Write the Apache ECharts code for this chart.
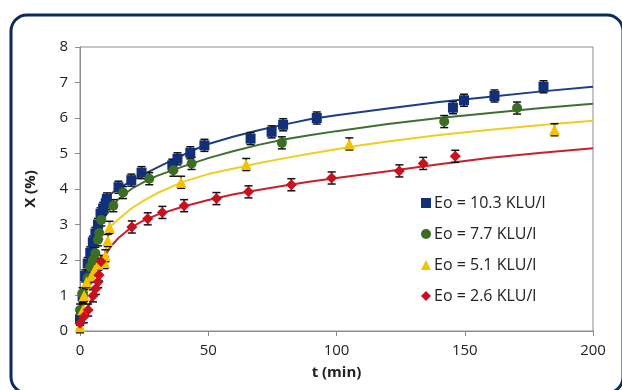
<!DOCTYPE html>
<html>
<head>
<meta charset="utf-8">
<script src="https://cdn.jsdelivr.net/npm/echarts@6/dist/echarts.min.js"></script>
<style>
  html, body {margin: 0; padding: 0; background: #fff;}
  #chart {width: 622px; height: 390px;}
</style>
</head>
<body>
<div id="chart"></div>
<script>
// measured points [t (min), X (%)]
var ptsE103 = [[0,0.33],[1,0.97],[2,1.55],[3,1.9],[4,2.2],[5,2.5],[6,2.75],[7,3.0],[8,3.3],[9,3.45],[10,3.6],[10.5,3.72],
  [15,4.05],[20,4.25],[24,4.46],[36,4.67],[38,4.85],[43,5.02],[48.5,5.23],[66.5,5.42],[74.7,5.61],[79.2,5.81],[92.3,6.0],
  [145.4,6.29],[149.7,6.5],[161.6,6.62],[180.7,6.88]];
var ptsE77 = [[0,0.59],[1,1.05],[3,1.5],[4,1.8],[5,2.0],[6,2.19],[7,2.57],[7.5,2.76],[8.3,3.13],[13,3.53],[16.8,3.9],
  [27,4.29],[36.4,4.53],[43.5,4.72],[78.7,5.3],[142,5.9],[170.4,6.28]];
var ptsE51 = [[0,0.12],[1.2,0.6],[1.6,1.0],[2.6,1.39],[4.5,1.55],[5.7,1.72],[7.1,1.88],[9.6,1.93],[9.9,2.12],[10.8,2.55],
  [11.5,2.92],[39.4,4.19],[64.8,4.69],[105,5.27],[185,5.67]];
var ptsE26 = [[0,0.22],[1.5,0.4],[3.2,0.59],[5.1,0.99],[6.2,1.2],[7.1,1.39],[7.4,1.58],[8.2,1.96],[20.2,2.93],[26.4,3.16],
  [32.1,3.34],[40.6,3.53],[53.2,3.73],[65.7,3.92],[82.4,4.12],[98.1,4.31],[124.5,4.51],[133.8,4.72],[146.3,4.92]];

// fitted curves
var fitE103 = [[0,0.35],[2,1.45],[4,2.25],[6,2.85],[8,3.35],[10,3.7],[12,3.86],[15,4.02],[20,4.22],[25,4.42],[30,4.6],
  [35,4.78],[40,4.95],[45,5.12],[50,5.27],[60,5.48],[70,5.66],[80,5.82],[90,5.97],[100,6.08],[120,6.27],[140,6.45],
  [160,6.6],[180,6.75],[200,6.88]];
var fitE77 = [[0,0.6],[2,1.3],[4,1.95],[6,2.5],[8,2.95],[10,3.25],[12,3.45],[15,3.72],[20,4.0],[25,4.2],[30,4.37],
  [40,4.63],[50,4.87],[60,5.07],[70,5.25],[80,5.4],[90,5.52],[100,5.63],[120,5.83],[140,6.0],[160,6.14],[180,6.28],[200,6.4]];
var fitE51 = [[0,0.12],[2,0.9],[4,1.35],[6,1.7],[8,1.95],[9.7,2.1],[11.7,2.94],[15,3.15],[20,3.45],[25,3.68],[30,3.88],
  [35,4.04],[40,4.2],[50,4.42],[60,4.58],[70,4.73],[80,4.87],[90,5.0],[100,5.12],[110,5.24],[120,5.34],[140,5.52],
  [160,5.67],[180,5.8],[200,5.92]];
var fitE26 = [[0,0.2],[2,0.42],[4,0.8],[6,1.2],[8,1.75],[10.4,2.2],[12,2.38],[15,2.62],[20,2.92],[25,3.12],[30,3.27],
  [40,3.5],[50,3.69],[60,3.85],[70,3.98],[80,4.1],[90,4.21],[100,4.31],[120,4.5],[140,4.7],[160,4.88],[180,5.02],[200,5.15]];

var errHalf = 0.17;  // error bar half width, X (%)
var seriesNames = ['Eo = 10.3 KLU/l', 'Eo = 7.7 KLU/l', 'Eo = 5.1 KLU/l', 'Eo = 2.6 KLU/l'];

var colors = ['#12307a', '#3b6e23', '#f4c300', '#c8101e'];
var lineColors = ['#1d3d86', '#3f7030', '#f2cd1e', '#c8202c'];
var symbols = ['rect', 'circle', 'triangle', 'diamond'];
var symbolSizes = [10, 10, 11, 11];
var pts = [ptsE103, ptsE77, ptsE51, ptsE26];
var fits = [fitE103, fitE77, fitE51, fitE26];

var chart = echarts.init(document.getElementById('chart'));

var series = [];
for (let i = 0; i < 4; i++) {
  series.push({
    name: seriesNames[i] + ' fit',
    type: 'line',
    data: fits[i],
    smooth: false,
    showSymbol: false,
    lineStyle: {color: lineColors[i], width: 2},
    silent: true,
    z: 2
  });
}
for (let i = 0; i < 4; i++) {
  series.push({
    name: seriesNames[i] + ' err',
    type: 'custom',
    data: pts[i],
    silent: true,
    z: 3,
    renderItem: function (params, api) {
      var t = api.value(0), v = api.value(1);
      var hi = api.coord([t, v + errHalf]);
      var lo = api.coord([t, v - errHalf]);
      var cap = 4;
      var st = {stroke: '#111', lineWidth: 1.5};
      return {
        type: 'group',
        children: [
          {type: 'line', shape: {x1: hi[0], y1: hi[1], x2: lo[0], y2: lo[1]}, style: st},
          {type: 'line', shape: {x1: hi[0] - cap, y1: hi[1], x2: hi[0] + cap, y2: hi[1]}, style: st},
          {type: 'line', shape: {x1: lo[0] - cap, y1: lo[1], x2: lo[0] + cap, y2: lo[1]}, style: st}
        ]
      };
    }
  });
}
for (let i = 0; i < 4; i++) {
  series.push({
    name: seriesNames[i],
    type: 'scatter',
    data: pts[i],
    symbol: symbols[i],
    symbolSize: symbolSizes[i],
    itemStyle: {color: colors[i], opacity: 1},
    z: 4
  });
}

var option = {
  animation: false,
  backgroundColor: '#fff',
  graphic: [{
    type: 'rect',
    shape: {x: 11, y: 15, width: 612, height: 378, r: 16},
    style: {fill: 'none', stroke: '#0d2a5c', lineWidth: 3},
    silent: true
  }],
  grid: {
    left: 80, right: 29, top: 47, bottom: 59,
    show: true, borderColor: '#8c8c8c', borderWidth: 1
  },
  legend: {
    orient: 'vertical',
    left: 416, top: 190,
    itemGap: 15,
    itemWidth: 10, itemHeight: 10,
    data: seriesNames,
    textStyle: {fontFamily: 'Open Sans', fontSize: 16, color: '#222', padding: [0, 0, 0, -2]}
  },
  xAxis: {
    type: 'value',
    min: 0, max: 200, interval: 50,
    name: 't (min)',
    nameLocation: 'middle',
    nameGap: 34,
    nameTextStyle: {fontFamily: 'Open Sans', fontSize: 15, fontWeight: 'bold', color: '#222'},
    axisLine: {show: true, lineStyle: {color: '#8c8c8c'}},
    axisTick: {show: true, length: 5, lineStyle: {color: '#8c8c8c'}},
    axisLabel: {fontFamily: 'Open Sans', fontSize: 15, color: '#222', margin: 12},
    splitLine: {show: false}
  },
  yAxis: {
    type: 'value',
    min: 0, max: 8, interval: 1,
    name: 'X (%)',
    nameLocation: 'middle',
    nameGap: 42,
    nameRotate: 90,
    nameTextStyle: {fontFamily: 'Open Sans', fontSize: 15, fontWeight: 'bold', color: '#222'},
    axisLine: {show: true, lineStyle: {color: '#8c8c8c'}},
    axisTick: {show: true, length: 5, lineStyle: {color: '#8c8c8c'}},
    axisLabel: {fontFamily: 'Open Sans', fontSize: 15, color: '#222', margin: 12},
    splitLine: {show: false}
  },
  series: series
};
chart.setOption(option);
</script>
</body>
</html>
